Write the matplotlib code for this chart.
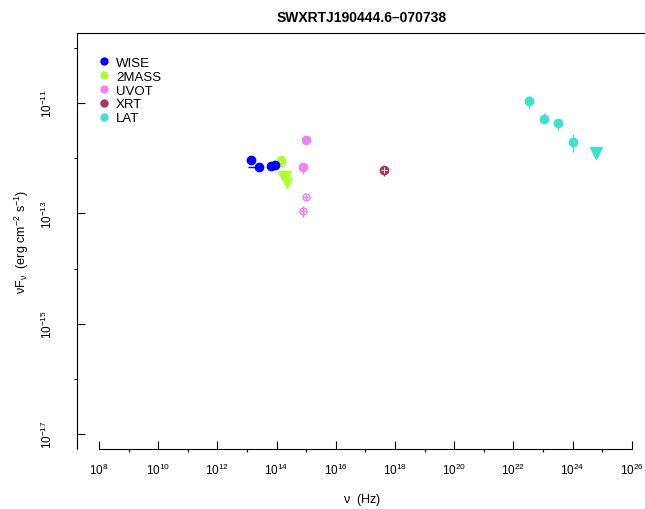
import numpy as np
import matplotlib.pyplot as plt
from matplotlib.lines import Line2D

plt.rcParams['font.family'] = ['Liberation Sans', 'DejaVu Sans']
plt.rcParams['mathtext.default'] = 'regular'

# data (Hz, erg cm-2 s-1)
wise_nu = [1.36e13, 2.5e13, 6.5e13, 8.8e13]
wise_f = [9.4e-13, 6.8e-13, 7.3e-13, 7.4e-13]
wise_f_lo = [8.4e-13, 6.4e-13, 6.9e-13, 7.0e-13]
wise_f_hi = [1.05e-12, 7.2e-13, 7.7e-13, 7.8e-13]
wise_nu_lo = [1.36e13, 1.1e13, 6.5e13, 8.8e13]
wise_nu_hi = [1.36e13, 3.5e13, 6.5e13, 8.8e13]

mass_nu = [1.38e14]
mass_f = [9.2e-13]
mass2_nu = [1.38e14]
mass2_f = [8.1e-13]
mass_ul_nu = [1.7e14, 2.1e14, 2.3e14]
mass_ul_f = [4.8e-13, 4.8e-13, 3.6e-13]

uvot_nu = [1.0e15, 8.0e14]
uvot_f = [2.1e-12, 6.8e-13]
uvot_f_lo = [2.0e-12, 5.1e-13]
uvot_f_hi = [2.2e-12, 8.3e-13]
uvot2_nu = [1.0e15, 8.0e14]
uvot2_f = [2.0e-13, 1.12e-13]
uvot2_f_lo = [1.9e-13, 8.7e-14]
uvot2_f_hi = [2.1e-13, 1.38e-13]

xrt_nu = [4.3e17]
xrt_f = [6.0e-13]
xrt_f_lo = [4.7e-13]
xrt_f_hi = [7.1e-13]

lat_nu = [3.4e22, 1.1e23, 3.2e23, 1.05e24]
lat_f = [1.07e-11, 5.2e-12, 4.3e-12, 2.0e-12]
lat_f_lo = [8.3e-12, 4.3e-12, 3.3e-12, 1.29e-12]
lat_f_hi = [1.32e-11, 6.6e-12, 5.1e-12, 2.8e-12]
lat_ul_nu = [6.2e24]
lat_ul_f = [1.23e-12]

names = ['WISE', '2MASS', 'UVOT', 'XRT', 'LAT']
colors = ['#0000FF', '#ADFF2F', '#EE82EE', '#B03060', '#40E0D0']


def errs(v, lo, hi):
    v = np.array(v)
    return [v - np.array(lo), np.array(hi) - v]


fig = plt.figure(figsize=(6.45, 5.10), dpi=100)
ax = fig.add_axes([77 / 645, 60 / 510, 571 / 645, 416 / 510])
ax.set_xscale('log')
ax.set_yscale('log')

ms = 6
ax.errorbar(wise_nu, wise_f, yerr=errs(wise_f, wise_f_lo, wise_f_hi),
            xerr=errs(wise_nu, wise_nu_lo, wise_nu_hi),
            fmt='o', color=colors[0], ms=ms, elinewidth=1, capsize=0, zorder=3)

ax.plot(mass_nu, mass_f, 'o', color=colors[1], ms=ms, zorder=3)
ax.plot(mass2_nu, mass2_f, 'o', mfc='none', mec=colors[1], ms=5, zorder=3)
ax.plot(mass2_nu, mass2_f, '+', color=colors[1], ms=5, zorder=3)
ax.plot(mass_ul_nu, mass_ul_f, 'v', color=colors[1], ms=7, zorder=3)

ax.errorbar(uvot_nu, uvot_f, yerr=errs(uvot_f, uvot_f_lo, uvot_f_hi),
            fmt='o', color=colors[2], ms=ms, elinewidth=1, capsize=0, zorder=3)
ax.errorbar(uvot2_nu, uvot2_f, yerr=errs(uvot2_f, uvot2_f_lo, uvot2_f_hi),
            fmt='o', mfc='none', mec=colors[2], color=colors[2], ms=5,
            elinewidth=1, capsize=0, zorder=3)
ax.plot(uvot2_nu, uvot2_f, '+', color=colors[2], ms=5, zorder=3)

ax.errorbar(xrt_nu, xrt_f, yerr=errs(xrt_f, xrt_f_lo, xrt_f_hi),
            fmt='o', color=colors[3], ms=ms, elinewidth=1, capsize=0, zorder=3)
ax.plot(xrt_nu, xrt_f, '+', color='white', ms=4, mew=0.6, zorder=4)

ax.errorbar(lat_nu, lat_f, yerr=errs(lat_f, lat_f_lo, lat_f_hi),
            fmt='o', color=colors[4], ms=ms, elinewidth=1, capsize=0, zorder=3)
ax.plot(lat_ul_nu, lat_ul_f, 'v', color=colors[4], ms=8, zorder=3)

# R-like axes: light box, dark axis lines between the end ticks
for s in ax.spines.values():
    s.set_color('#777777')
    s.set_linewidth(0.8)
ax.spines['bottom'].set_bounds(1e8, 1e26)
ax.spines['bottom'].set_color('black')
ax.spines['left'].set_color('black')
ax.spines['top'].set_color('black')

xmaj = [10.0 ** e for e in range(8, 27, 2)]
xmin = [10.0 ** e for e in range(9, 26, 2)]
ymaj = [10.0 ** e for e in [-17, -15, -13, -11]]
ymin = [10.0 ** e for e in [-16, -14, -12, -10]]
ax.set_xticks(xmaj)
ax.set_xticks(xmin, minor=True)
ax.set_yticks(ymaj)
ax.set_yticks(ymin, minor=True)
ax.set_xticklabels([r'$10^{%d}$' % e for e in range(8, 27, 2)])
ax.set_yticklabels([r'$10^{%d}$' % e for e in [-17, -15, -13, -11]],
                   rotation=90, va='center')
ax.set_xticklabels([], minor=True)
ax.set_yticklabels([], minor=True)
ax.set_xlim(10 ** 7.26, 10 ** 26.55)
ax.set_ylim(10 ** -17.27, 10 ** -9.73)
ax.tick_params(which='major', direction='in', length=6, width=0.8, labelsize=8.5)
ax.tick_params(axis='x', which='major', pad=9)
ax.tick_params(axis='y', which='major', pad=16)
ax.tick_params(which='minor', direction='out', length=2.5, width=0.8)

ax.set_xlabel(r'$\nu$  (Hz)', fontsize=9, labelpad=10)
ax.set_ylabel(r'$\nu F_\nu$  (erg cm$^{-2}$ s$^{-1}$)', fontsize=9, labelpad=6)
ax.set_title('SWXRTJ190444.6\u2013070738', fontsize=10, fontweight='bold', pad=9,
             x=(362 - 77) / 571)

handles = [Line2D([], [], ls='none', marker='o', color=c, ms=5) for c in colors]
ax.legend(handles, names, loc='upper left', bbox_to_anchor=(0.02, 0.965),
          frameon=False, fontsize=9.5, handlelength=1, handletextpad=0.4,
          labelspacing=0.12, borderaxespad=0.3)

fig.savefig('out.png', dpi=100)
